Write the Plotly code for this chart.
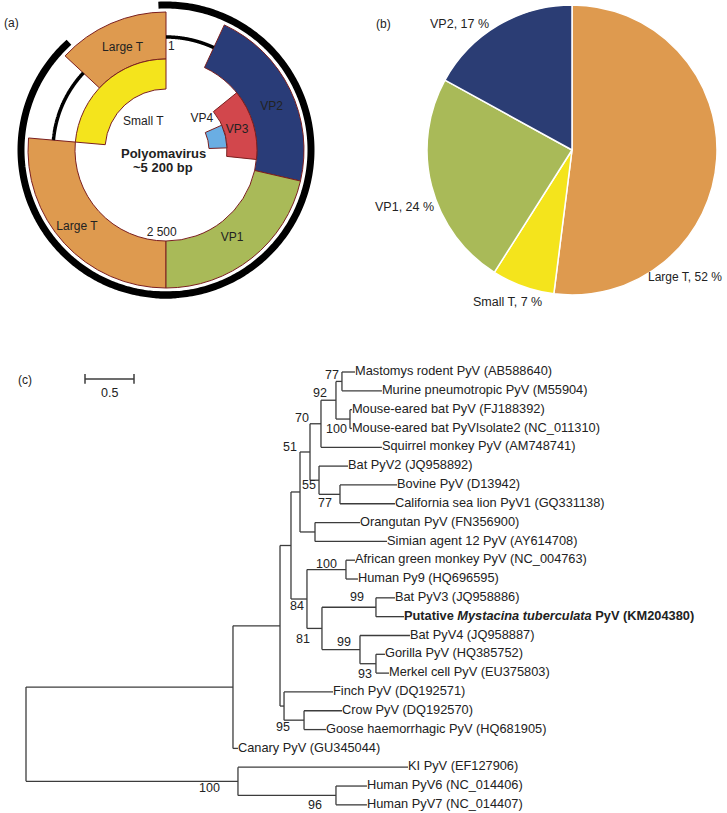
import numpy as np
import plotly.graph_objects as go

W, H = 727, 813
FONT = "Liberation Sans, Arial, Helvetica, sans-serif"
TXT = "#222222"

# ---------------- Panel (a): genome map ----------------
gene_names = ["Large T", "Large T", "Small T", "VP2", "VP1", "VP3", "VP4"]
gene_start = [180, 313, 275, 25, 103, 51, 66]      # degrees clockwise from position 1
gene_end = [275, 360, 360, 103, 180, 96, 88]
gene_inner = [91, 91, 61, 91, 91, 61, 43]
gene_outer = [138, 138, 91, 138, 138, 91, 61]
gene_colors = ["#DE9A4F", "#DE9A4F", "#F4E41C", "#293C78", "#A9BA58", "#D2474C", "#6AAEE3"]

arc_start = [-3, 318, 0, 275]
arc_end = [185, 175, 25, 313]
arc_radius = [145, 145, 113, 113]
arc_width = [7, 7, 3.5, 3.5]

map_labels = ["Large T", "Small T", "1", "VP4", "VP3", "VP2", "VP1", "Large T", "2 500"]
map_label_theta = [337, 321, 3, 49, 74, 68, 143, 229, 183]
map_label_r = [111, 36, 103, 47.5, 74, 114, 110, 118, 83]

# ---------------- Panel (b): pie ----------------
pie_labels = ["Large T", "Small T", "VP1", "VP2"]
pie_values = [52, 7, 24, 17]
pie_colors = ["#DE9A4F", "#F4E41C", "#A9BA58", "#2B3D74"]

# ---------------- Panel (c): tree ----------------
leaf_labels = [
    "Mastomys rodent PyV (AB588640)",
    "Murine pneumotropic PyV (M55904)",
    "Mouse-eared bat PyV (FJ188392)",
    "Mouse-eared bat PyVIsolate2 (NC_011310)",
    "Squirrel monkey PyV (AM748741)",
    "Bat PyV2 (JQ958892)",
    "Bovine PyV (D13942)",
    "California sea lion PyV1 (GQ331138)",
    "Orangutan PyV (FN356900)",
    "Simian agent 12 PyV (AY614708)",
    "African green monkey PyV (NC_004763)",
    "Human Py9 (HQ696595)",
    "Bat PyV3 (JQ958886)",
    "<b>Putative <i>Mystacina tuberculata</i> PyV (KM204380)</b>",
    "Bat PyV4 (JQ958887)",
    "Gorilla PyV (HQ385752)",
    "Merkel cell PyV (EU375803)",
    "Finch PyV (DQ192571)",
    "Crow PyV (DQ192570)",
    "Goose haemorrhagic PyV (HQ681905)",
    "Canary PyV (GU345044)",
    "KI PyV (EF127906)",
    "Human PyV6 (NC_014406)",
    "Human PyV7 (NC_014407)",
]

# (child, parent, branch length); integer children are leaf indices
branches = [
    ("nD", "root", 2.112), ("nK", "root", 2.163),
    ("nC", "nD", 0.480), (20, "nD", 0.051),
    ("nA", "nC", 0.112), ("n95", "nC", 0.041),
    ("nB", "nA", 0.092), ("n84", "nA", 0.163),
    ("n51", "nB", 0.102), ("nOS", "nB", 0.153),
    ("n70", "n51", 0.112), ("n55", "n51", 0.092),
    ("n92", "n70", 0.153), (4, "n70", 0.622),
    ("n77a", "n92", 0.061), ("n100a", "n92", 0.143),
    (0, "n77a", 0.133), (1, "n77a", 0.408),
    (2, "n100a", 0.020), (3, "n100a", 0.020),
    (5, "n55", 0.296), ("n77b", "n55", 0.214),
    (6, "n77b", 0.582), (7, "n77b", 0.561),
    (8, "nOS", 0.459), (9, "nOS", 0.735),
    ("n100b", "n84", 0.398), ("n81", "n84", 0.153),
    (10, "n100b", 0.092), (11, "n100b", 0.122),
    ("n99a", "n81", 0.551), ("n99b", "n81", 0.388),
    (12, "n99a", 0.194), (13, "n99a", 0.286),
    (14, "n99b", 0.510), ("n93", "n99b", 0.163),
    (15, "n93", 0.092), (16, "n93", 0.133),
    (17, "n95", 0.500), ("nCG", "n95", 0.204),
    (18, "nCG", 0.388), (19, "nCG", 0.224),
    (21, "nK", 1.735), ("n96", "nK", 1.000),
    (22, "n96", 0.316), (23, "n96", 0.316),
]

bootstrap_nodes = ["n77a", "n92", "n70", "n100a", "n51", "n55", "n77b", "n100b",
                   "n84", "n99a", "n81", "n99b", "n93", "n95", "nK", "n96"]
bootstrap_values = [77, 92, 70, 100, 51, 55, 77, 100, 84, 99, 81, 99, 93, 95, 100, 96]
# label offsets from node (pixels, right / down)
bootstrap_dx = [-10, -16, -19, -13, -20, -10, -15, -19, -10, -19, -19, -16, -11, -1, -28, -21]
bootstrap_dy = [-6, -7, -6, 10, -5, 5, 9, -6, 7, -10, 11, -8, 10, 21, 7, 10]

scale_length = 0.5

# ---------------- build tree geometry ----------------
children = {}
blen = {}
for c, p, l in branches:
    children.setdefault(p, []).append(c)
    blen[c] = l

xpos = {"root": 0.0}
def set_x(n):
    for c in children.get(n, []):
        xpos[c] = xpos[n] + blen[c]
        set_x(c)
set_x("root")

ypos = {}
def set_y(n):
    if isinstance(n, int):
        ypos[n] = float(n)
        return ypos[n]
    ys = [set_y(c) for c in children[n]]
    ypos[n] = (min(ys) + max(ys)) / 2
    return ypos[n]
set_y("root")

lx, ly = [], []
for n, ch in children.items():
    ys = [ypos[c] for c in ch]
    lx += [xpos[n], xpos[n], None]
    ly += [min(ys), max(ys), None]
    for c in ch:
        lx += [xpos[n], xpos[c], None]
        ly += [ypos[c], ypos[c], None]

fig = go.Figure()

# genome map
for i in range(len(gene_names)):
    fig.add_trace(go.Barpolar(
        r=[gene_outer[i] - gene_inner[i]], base=[gene_inner[i]],
        theta=[(gene_start[i] + gene_end[i]) / 2], width=[gene_end[i] - gene_start[i]],
        marker=dict(color=gene_colors[i], line=dict(color="#7A1F1F", width=1)),
        showlegend=False, hoverinfo="skip"))
for i in range(len(arc_start)):
    th = np.linspace(arc_start[i], arc_end[i], 200)
    fig.add_trace(go.Scatterpolar(
        r=np.full_like(th, arc_radius[i]), theta=th, mode="lines",
        line=dict(color="black", width=arc_width[i]), showlegend=False, hoverinfo="skip"))
fig.add_trace(go.Scatterpolar(
    r=map_label_r, theta=map_label_theta, text=map_labels, mode="text",
    textfont=dict(family=FONT, size=12, color=TXT), showlegend=False, hoverinfo="skip"))

fig.update_layout(polar=dict(
    domain=dict(x=[16 / W, 316 / W], y=[1 - 300 / H, 1]),
    bgcolor="rgba(0,0,0,0)",
    radialaxis=dict(range=[0, 150], visible=False),
    angularaxis=dict(direction="clockwise", rotation=90, visible=False),
))

# pie
fig.add_trace(go.Pie(
    labels=pie_labels, values=pie_values, sort=False, direction="clockwise", rotation=0,
    marker=dict(colors=pie_colors, line=dict(color="white", width=1.5)),
    textinfo="none", hoverinfo="label+percent", showlegend=False,
    domain=dict(x=[427 / W, 717 / W], y=[1 - 295 / H, 1 - 5 / H])))

# tree
fig.add_trace(go.Scatter(x=lx, y=ly, mode="lines", line=dict(color="#3C3C3C", width=1.3),
                         showlegend=False, hoverinfo="skip", xaxis="x", yaxis="y"))
leaf_idx = list(range(len(leaf_labels)))
fig.add_trace(go.Scatter(
    x=[xpos[i] for i in leaf_idx], y=[ypos[i] for i in leaf_idx], text=leaf_labels,
    mode="text", textposition="middle right",
    textfont=dict(family=FONT, size=12.8, color=TXT), showlegend=False, hoverinfo="skip"))

# scale bar
sb_x0 = 0.602
fig.add_trace(go.Scatter(
    x=[sb_x0, sb_x0 + scale_length], y=[0.37, 0.37], mode="lines+markers",
    line=dict(color="#3C3C3C", width=1.5),
    marker=dict(symbol="line-ns-open", size=7, line=dict(color="#3C3C3C", width=1.5)),
    showlegend=False, hoverinfo="skip"))

annotations = []
for n, v, dx, dy in zip(bootstrap_nodes, bootstrap_values, bootstrap_dx, bootstrap_dy):
    annotations.append(dict(x=xpos[n], y=ypos[n], xref="x", yref="y", text=str(v),
                            showarrow=False, xshift=dx, yshift=-dy,
                            font=dict(family=FONT, size=12.5, color=TXT)))
annotations.append(dict(x=sb_x0 + scale_length / 2, y=1.12, xref="x", yref="y", text=str(scale_length),
                        showarrow=False, font=dict(family=FONT, size=12.5, color=TXT)))

def pa(text, x, y, size=12, anchor="center", bold=False):
    annotations.append(dict(x=x / W, y=1 - y / H, xref="paper", yref="paper",
                            text=f"<b>{text}</b>" if bold else text, showarrow=False,
                            xanchor=anchor, yanchor="middle",
                            font=dict(family=FONT, size=size, color=TXT)))

pa("(a)", 2, 23, 12, "left")
pa("(b)", 374, 24, 12, "left")
pa("(c)", 16, 380, 12, "left")
pa("Polyomavirus", 163, 153, 13, bold=True)
pa("~5 200 bp", 163, 168, 13, bold=True)

pie_text = [f"{l}, {v} %" for l, v in zip(pie_labels, pie_values)]
pa(pie_text[0], 646, 277, 12, "left")
pa(pie_text[1], 507, 302, 12.5)
pa(pie_text[2], 404, 207, 12.5)
pa(pie_text[3], 459, 24, 12.5)

fig.update_layout(
    width=W, height=H, margin=dict(l=0, r=0, t=0, b=0),
    paper_bgcolor="white", plot_bgcolor="rgba(0,0,0,0)",
    xaxis=dict(domain=[0, 1], range=[-26 / 98, (W - 26) / 98], visible=False, fixedrange=True),
    yaxis=dict(domain=[0, 1], range=[(H - 372) / 18.82, -372 / 18.82], visible=False, fixedrange=True),
    annotations=annotations,
    showlegend=False,
)

fig.write_html("out.html", config={"displayModeBar": False},
               post_script="document.body.style.margin='0';document.body.style.overflow='hidden';")
